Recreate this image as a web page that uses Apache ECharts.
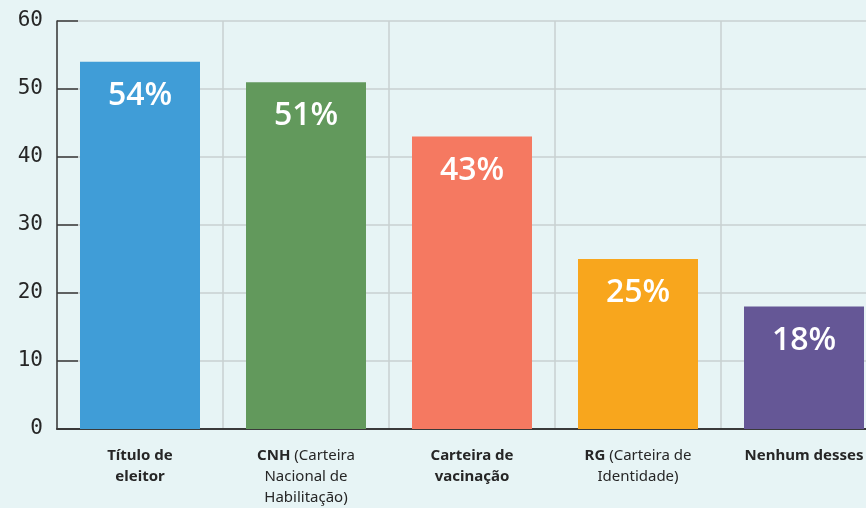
<!DOCTYPE html>
<html lang="pt">
<head>
    <meta charset="UTF-8"/>
    <title>Documentos</title>
    <script src="https://cdn.jsdelivr.net/npm/echarts@6/dist/echarts.min.js"></script>
    <style>
        html, body { margin: 0; padding: 0; background: #e7f4f5; }
        #wrap { width: 866px; height: 508px; overflow: hidden; position: relative; }
    </style>
</head>
<body>
<!-- a última coluna é cortada à direita: o gráfico é mais largo que a moldura -->
<div id="wrap"><div id="main" style="width: 887px;height: 508px;"></div></div>
<script type="text/javascript">
    // dados
    var categories = [
        '{b|Título de}\n{b|eleitor}',
        '{b|CNH} (Carteira\nNacional de\nHabilitação)',
        '{b|Carteira de}\n{b|vacinação}',
        '{b|RG} (Carteira de\nIdentidade)',
        '{b|Nenhum desses}'
    ];
    var values = [54, 51, 43, 25, 18];
    var colors = ['#409dd7', '#62995c', '#f57961', '#f8a61d', '#655796'];
    var yTicks = [0, 10, 20, 30, 40, 50, 60];

    var myChart = echarts.init(document.getElementById('main'));

    myChart.setOption({
        backgroundColor: '#e7f4f5',
        animation: false,
        grid: { left: 57, right: 0, top: 21, bottom: 75, containLabel: false },
        xAxis: {
            type: 'category',
            data: categories,
            axisLine: { lineStyle: { color: '#3a3a3a', width: 2 } },
            axisTick: { inside: true, length: 6, lineStyle: { color: '#3a3a3a' } },
            splitLine: { show: true, lineStyle: { color: '#c9d0d1', width: 1.5 } },
            axisLabel: {
                interval: 0,
                margin: 16,
                color: '#262626',
                fontFamily: 'Noto Sans',
                fontSize: 15,
                lineHeight: 21,
                rich: {
                    b: { fontWeight: 'bold', fontFamily: 'Noto Sans', fontSize: 15, lineHeight: 21, color: '#262626' }
                }
            }
        },
        yAxis: {
            type: 'value',
            min: yTicks[0],
            max: yTicks[yTicks.length - 1],
            interval: 10,
            axisLine: { show: true, lineStyle: { color: '#3a3a3a', width: 1.5 } },
            axisTick: { show: true, inside: true, length: 21, lineStyle: { color: '#3a3a3a', width: 1.5 } },
            splitLine: { lineStyle: { color: '#c9d0d1', width: 1.5 } },
            axisLabel: {
                margin: 14,
                color: '#262626',
                fontFamily: 'DejaVu Sans Mono',
                fontSize: 21,
                padding: [4, 0, 0, 0]
            }
        },
        series: [{
            type: 'bar',
            barWidth: 120,
            data: values.map(function (v, i) {
                return { value: v, itemStyle: { color: colors[i] } };
            }),
            label: {
                show: true,
                position: 'insideTop',
                distance: 18,
                formatter: '{c}%',
                color: '#fff',
                fontFamily: 'Open Sans',
                fontWeight: 600,
                fontSize: 32
            }
        }]
    });
</script>
</body>
</html>
